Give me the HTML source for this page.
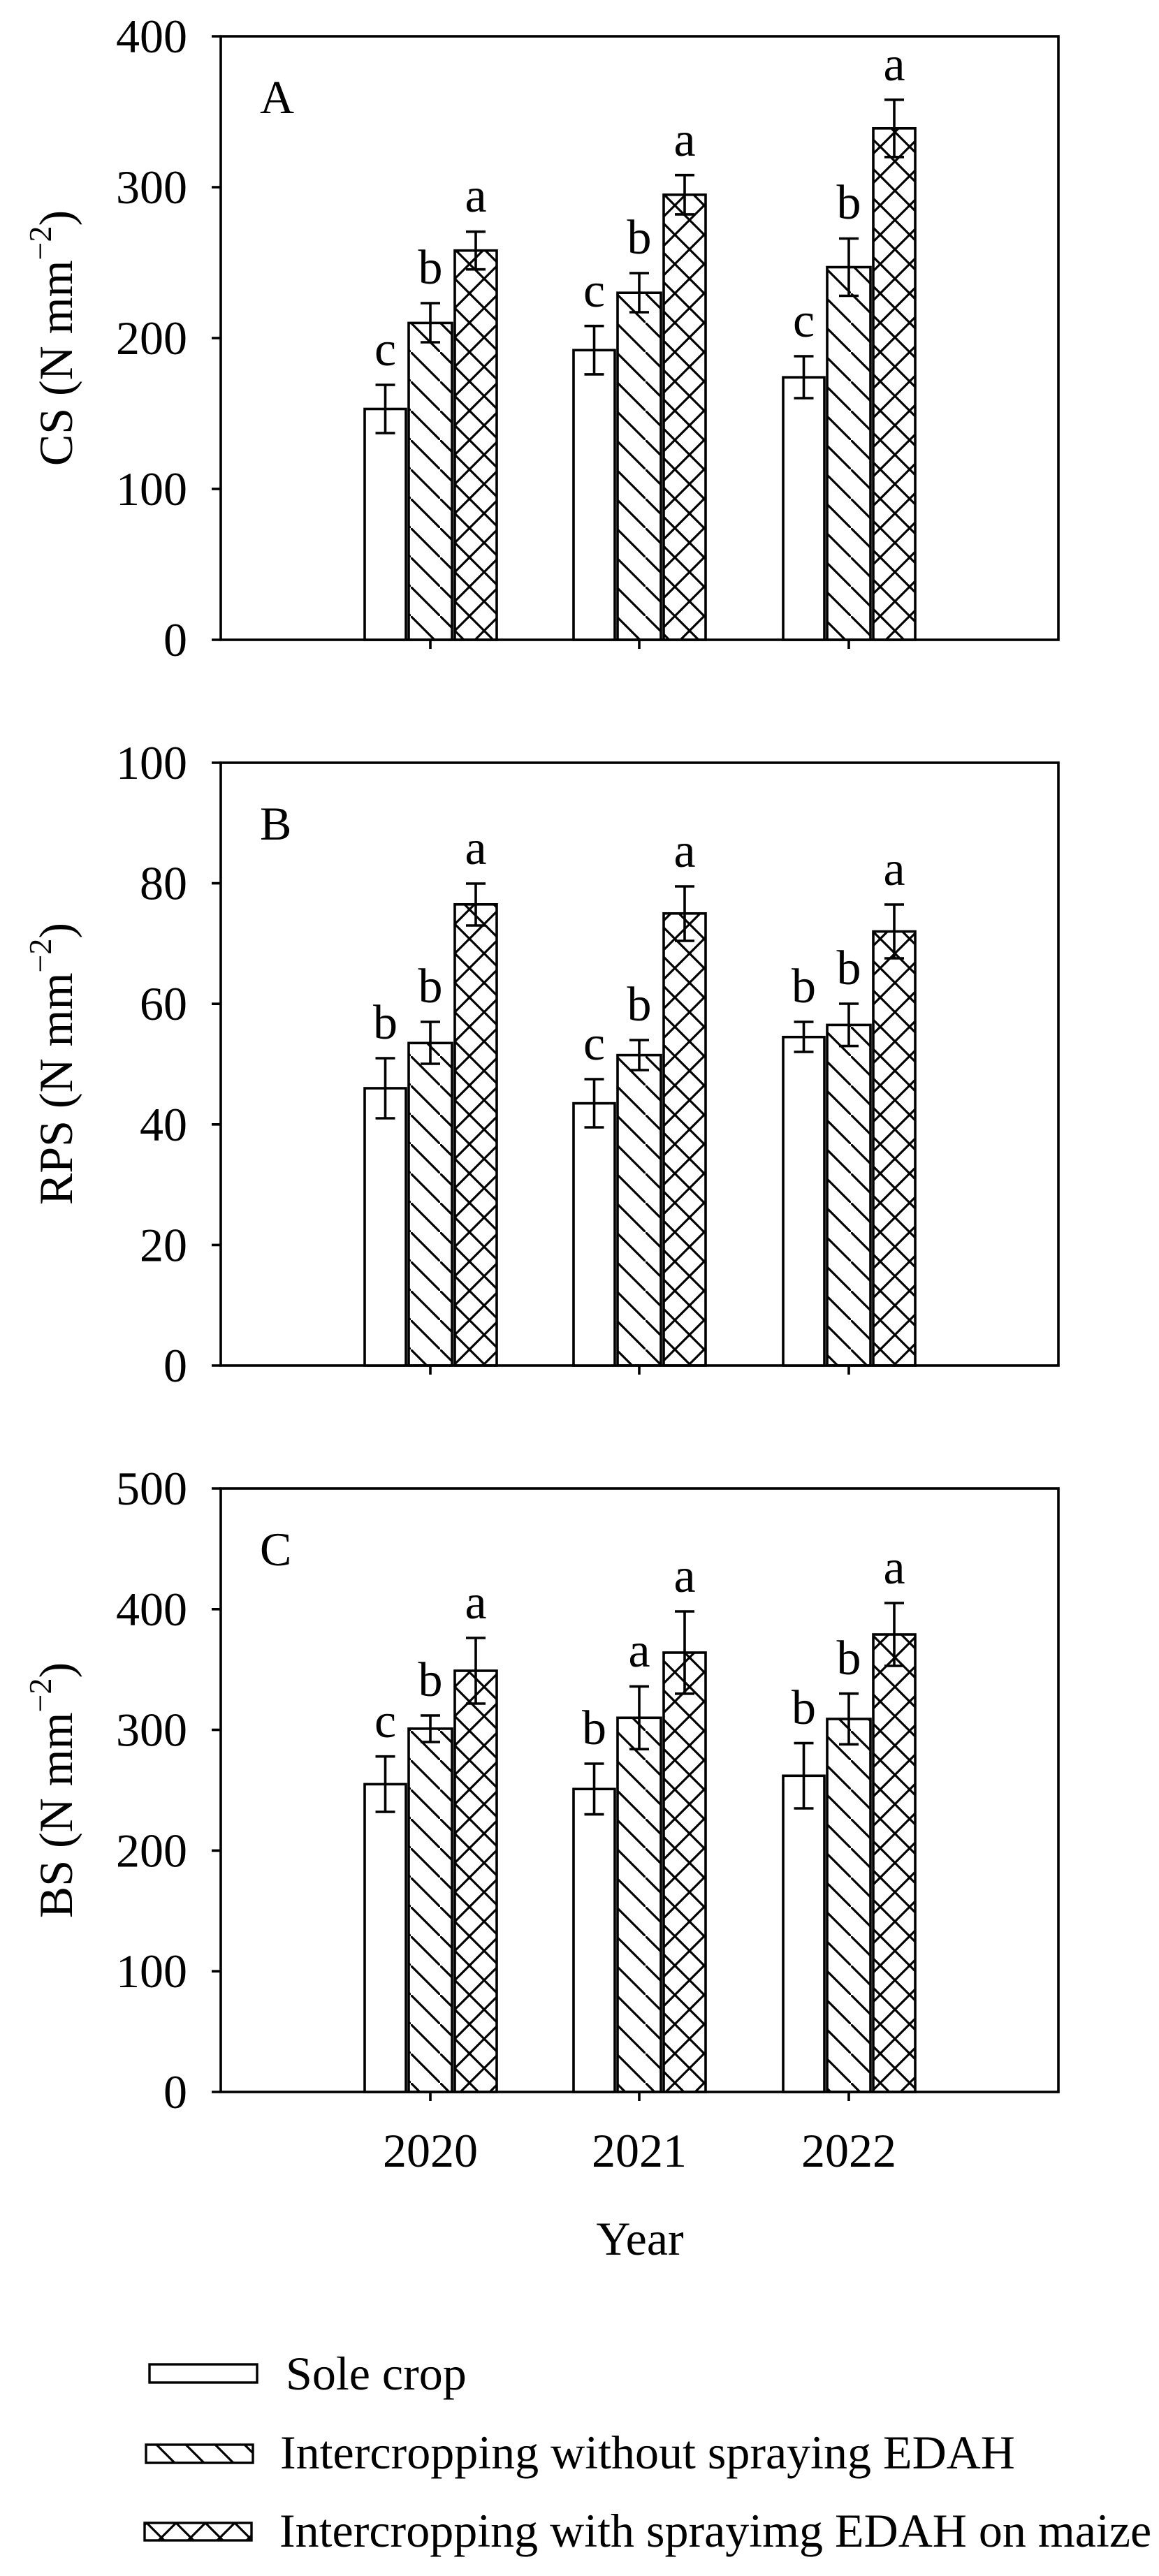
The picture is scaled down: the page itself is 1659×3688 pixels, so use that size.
<!DOCTYPE html>
<html><head><meta charset="utf-8"><style>
html,body{margin:0;padding:0;background:#fff}
svg{display:block}
text{font-family:"Liberation Serif","Times New Roman",serif;fill:#000}
</style></head><body>
<svg width="1659" height="3688" viewBox="0 0 1659 3688" xmlns="http://www.w3.org/2000/svg">
<defs>
<pattern id="h" patternUnits="userSpaceOnUse" width="42" height="42">
<path d="M-6,-6 L48,48" stroke="#000" stroke-width="3.2"/>
</pattern>
<pattern id="x" patternUnits="userSpaceOnUse" width="42" height="42">
<path d="M-6,-6 L48,48 M48,-6 L-6,48" stroke="#000" stroke-width="3.2"/>
</pattern>
</defs>
<g stroke="#000" fill="none" stroke-width="3.6">
<!-- Panel A -->
<rect x="316" y="52" width="1199" height="864"/>
<path d="M303,916H316M303,700H316M303,484H316M303,268H316M303,52H316M616,916V929M915,916V929M1215,916V929"/>
<!-- Panel B -->
<rect x="316" y="1092" width="1199" height="863"/>
<path d="M303,1955H316M303,1782.4H316M303,1609.8H316M303,1437.2H316M303,1264.6H316M303,1092H316M616,1955V1968M915,1955V1968M1215,1955V1968"/>
<!-- Panel C -->
<rect x="316" y="2131" width="1199" height="864"/>
<path d="M303,2995H316M303,2822.2H316M303,2649.4H316M303,2476.6H316M303,2303.8H316M303,2131H316M616,2995V3008M915,2995V3008M1215,2995V3008"/>
</g>

<g stroke="#000" stroke-width="3.6">
<!-- A bars -->
<rect x="522" y="585.5" width="59" height="330.5" fill="#fff"/>
<rect x="585" y="462.4" width="62" height="453.6" fill="url(#h)"/>
<rect x="651" y="358.7" width="60" height="557.3" fill="url(#x)"/>
<rect x="821" y="501.3" width="59" height="414.7" fill="#fff"/>
<rect x="884" y="419.2" width="62" height="496.8" fill="url(#h)"/>
<rect x="950" y="278.8" width="60" height="637.2" fill="url(#x)"/>
<rect x="1121" y="540.2" width="59" height="375.8" fill="#fff"/>
<rect x="1184" y="382.5" width="62" height="533.5" fill="url(#h)"/>
<rect x="1250" y="183.8" width="60" height="732.2" fill="url(#x)"/>
<!-- B bars -->
<rect x="522" y="1558" width="59" height="397" fill="#fff"/>
<rect x="585" y="1493.3" width="62" height="461.7" fill="url(#h)"/>
<rect x="651" y="1294.8" width="60" height="660.2" fill="url(#x)"/>
<rect x="821" y="1579.6" width="59" height="375.4" fill="#fff"/>
<rect x="884" y="1510.6" width="62" height="444.4" fill="url(#h)"/>
<rect x="950" y="1307.8" width="60" height="647.2" fill="url(#x)"/>
<rect x="1121" y="1484.7" width="59" height="470.3" fill="#fff"/>
<rect x="1184" y="1467.4" width="62" height="487.6" fill="url(#h)"/>
<rect x="1250" y="1333.6" width="60" height="621.4" fill="url(#x)"/>
<!-- C bars -->
<rect x="522" y="2554.4" width="59" height="440.6" fill="#fff"/>
<rect x="585" y="2474.9" width="62" height="520.1" fill="url(#h)"/>
<rect x="651" y="2392" width="60" height="603" fill="url(#x)"/>
<rect x="821" y="2561.3" width="59" height="433.7" fill="#fff"/>
<rect x="884" y="2459.3" width="62" height="535.7" fill="url(#h)"/>
<rect x="950" y="2366" width="60" height="629" fill="url(#x)"/>
<rect x="1121" y="2542.3" width="59" height="452.7" fill="#fff"/>
<rect x="1184" y="2461" width="62" height="534" fill="url(#h)"/>
<rect x="1250" y="2340" width="60" height="655" fill="url(#x)"/>
</g>

<g stroke="#000" stroke-width="3.6" fill="none">
<!-- error bars: center cx, top, bottom -->
<path d="M551.5,551V620M537.5,551H565.5M537.5,620H565.5"/>
<path d="M616,434V490M602,434H630M602,490H630"/>
<path d="M681,331.7V385.7M667,331.7H695M667,385.7H695"/>
<path d="M850.5,466.7V535.9M836.5,466.7H864.5M836.5,535.9H864.5"/>
<path d="M915,391V447M901,391H929M901,447H929"/>
<path d="M980,250.7V306.9M966,250.7H994M966,306.9H994"/>
<path d="M1150.5,510V570M1136.5,510H1164.5M1136.5,570H1164.5"/>
<path d="M1215,341.5V423.5M1201,341.5H1229M1201,423.5H1229"/>
<path d="M1280,142.8V224.8M1266,142.8H1294M1266,224.8H1294"/>

<path d="M551.5,1515V1601M537.5,1515H565.5M537.5,1601H565.5"/>
<path d="M616,1463V1523M602,1463H630M602,1523H630"/>
<path d="M681,1265V1325M667,1265H695M667,1325H695"/>
<path d="M850.5,1545V1614M836.5,1545H864.5M836.5,1614H864.5"/>
<path d="M915,1489V1532M901,1489H929M901,1532H929"/>
<path d="M980,1269V1347M966,1269H994M966,1347H994"/>
<path d="M1150.5,1463V1506M1136.5,1463H1164.5M1136.5,1506H1164.5"/>
<path d="M1215,1437V1497.6M1201,1437H1229M1201,1497.6H1229"/>
<path d="M1280,1295V1372M1266,1295H1294M1266,1372H1294"/>

<path d="M551.5,2514.7V2594M537.5,2514.7H565.5M537.5,2594H565.5"/>
<path d="M616,2456V2494M602,2456H630M602,2494H630"/>
<path d="M681,2345V2439M667,2345H695M667,2439H695"/>
<path d="M850.5,2525V2597.6M836.5,2525H864.5M836.5,2597.6H864.5"/>
<path d="M915,2414.4V2504.2M901,2414.4H929M901,2504.2H929"/>
<path d="M980,2307V2424.8M966,2307H994M966,2424.8H994"/>
<path d="M1150.5,2495.6V2589M1136.5,2495.6H1164.5M1136.5,2589H1164.5"/>
<path d="M1215,2424.7V2497.3M1201,2424.7H1229M1201,2497.3H1229"/>
<path d="M1280,2295V2385M1266,2295H1294M1266,2385H1294"/>
</g>

<!-- significance letters -->
<g font-size="70" text-anchor="middle">
<text x="551.5" y="523">c</text><text x="616" y="406">b</text><text x="681" y="303">a</text>
<text x="850.5" y="439">c</text><text x="915" y="363">b</text><text x="980" y="223">a</text>
<text x="1150.5" y="482">c</text><text x="1215" y="313">b</text><text x="1280" y="115">a</text>

<text x="551.5" y="1487">b</text><text x="616" y="1435">b</text><text x="681" y="1237">a</text>
<text x="850.5" y="1517">c</text><text x="915" y="1461">b</text><text x="980" y="1241">a</text>
<text x="1150.5" y="1435">b</text><text x="1215" y="1409">b</text><text x="1280" y="1267">a</text>

<text x="551.5" y="2487">c</text><text x="616" y="2428">b</text><text x="681" y="2317">a</text>
<text x="850.5" y="2497">b</text><text x="915" y="2386">a</text><text x="980" y="2279">a</text>
<text x="1150.5" y="2468">b</text><text x="1215" y="2397">b</text><text x="1280" y="2267">a</text>
</g>

<!-- panel letters -->
<g font-size="68">
<text x="372" y="162">A</text>
<text x="372" y="1202">B</text>
<text x="372" y="2241">C</text>
</g>

<!-- tick labels -->
<g font-size="68" text-anchor="end">
<text x="268" y="939">0</text><text x="268" y="723">100</text><text x="268" y="507">200</text><text x="268" y="291">300</text><text x="268" y="75">400</text>
<text x="268" y="1978">0</text><text x="268" y="1805.4">20</text><text x="268" y="1632.8">40</text><text x="268" y="1460.2">60</text><text x="268" y="1287.6">80</text><text x="268" y="1115">100</text>
<text x="268" y="3018">0</text><text x="268" y="2845.2">100</text><text x="268" y="2672.4">200</text><text x="268" y="2499.6">300</text><text x="268" y="2326.8">400</text><text x="268" y="2154">500</text>
</g>

<!-- y-axis titles -->
<g font-size="68" text-anchor="middle">
<text transform="translate(103,484) rotate(-90)">CS (N mm<tspan font-size="46" dy="-30">−2</tspan><tspan dy="30">)</tspan></text>
<text transform="translate(103,1523) rotate(-90)">RPS (N mm<tspan font-size="46" dy="-30">−2</tspan><tspan dy="30">)</tspan></text>
<text transform="translate(103,2563) rotate(-90)">BS (N mm<tspan font-size="46" dy="-30">−2</tspan><tspan dy="30">)</tspan></text>
</g>

<!-- x labels -->
<g font-size="68" text-anchor="middle">
<text x="616" y="3102">2020</text>
<text x="915" y="3102">2021</text>
<text x="1215" y="3102">2022</text>
<text x="916" y="3228">Year</text>
</g>

<!-- legend -->
<g stroke="#000" stroke-width="3.4">
<rect x="214" y="3385" width="154" height="26" fill="#fff"/>
<rect x="209" y="3500" width="153" height="26" fill="url(#h)"/>
<rect x="207" y="3612" width="153" height="25" fill="url(#x)"/>
</g>
<g font-size="68">
<text x="409" y="3421">Sole crop</text>
<text x="401" y="3534">Intercropping without spraying EDAH</text>
<text x="400" y="3646">Intercropping with sprayimg EDAH on maize</text>
</g>
</svg>
</body></html>
